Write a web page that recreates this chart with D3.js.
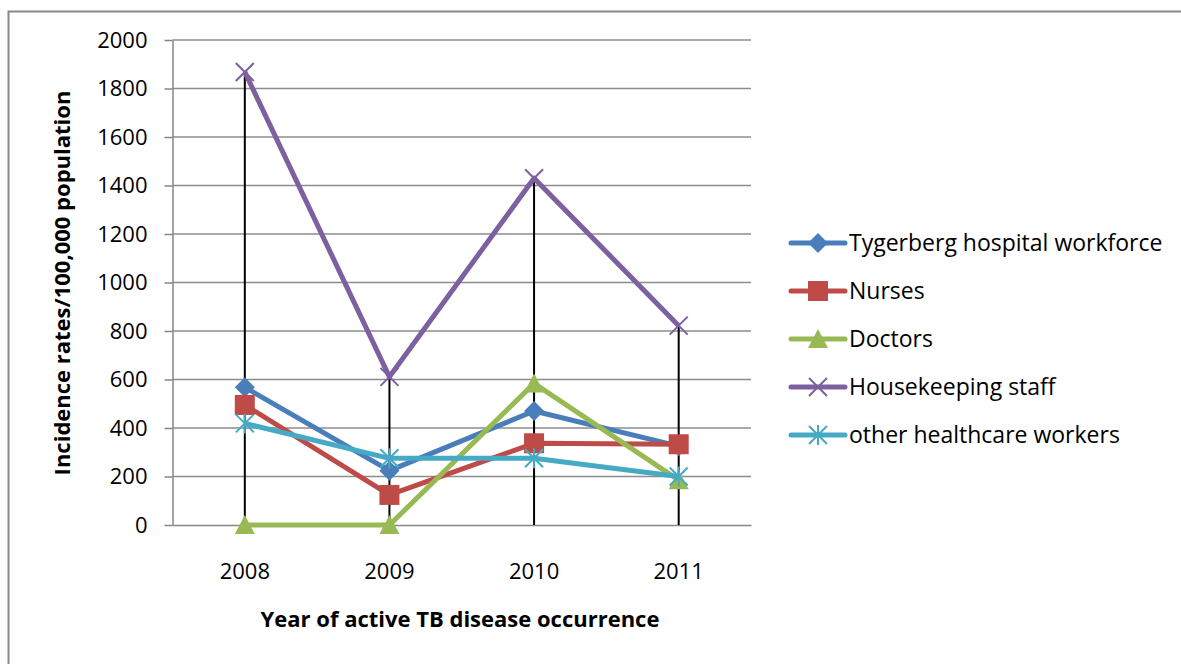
<!DOCTYPE html>
<html>
<head>
<meta charset="utf-8">
<script src="https://cdn.jsdelivr.net/npm/d3@7"></script>
<style>
  body { margin: 0; background: #fff; }
  svg text { font-family: "Open Sans", "Noto Sans", sans-serif; fill: #000; }
</style>
</head>
<body>
<svg id="chart" width="1181" height="664"></svg>
<script>
// categories and series values
const years = ["2008", "2009", "2010", "2011"];
const tygerberg = [568, 224, 470, 325];
const nurses = [495, 124, 337, 333];
const doctors = [0, 0, 584, 185];
const housekeeping = [1868, 611, 1430, 822];
const otherWorkers = [419, 275, 275, 200];
const yTicks = [0, 200, 400, 600, 800, 1000, 1200, 1400, 1600, 1800, 2000];

const seriesNames = ["Tygerberg hospital workforce", "Nurses", "Doctors", "Housekeeping staff", "other healthcare workers"];
const seriesValues = [tygerberg, nurses, doctors, housekeeping, otherWorkers];
const seriesColors = ["#4a7ebb", "#be4b48", "#98b954", "#7d60a0", "#46aac5"];
const seriesMarkers = ["diamond", "square", "triangle", "x", "star"];

const svg = d3.select("#chart");

// outer chart border (runs off the right and bottom edge)
svg.append("rect")
  .attr("x", 8.5).attr("y", 11.5)
  .attr("width", 1200).attr("height", 700)
  .attr("fill", "none").attr("stroke", "#888").attr("stroke-width", 2);

const x = d3.scaleBand().domain(years).range([172.5, 751]);
const y = d3.scaleLinear().domain([0, 2000]).range([525, 40]);

// gridlines
svg.append("g")
  .selectAll("line")
  .data(yTicks.filter(d => d > 0))
  .enter().append("line")
  .attr("x1", 172.5).attr("x2", 751)
  .attr("y1", d => y(d)).attr("y2", d => y(d))
  .attr("stroke", "#8c8c8c").attr("stroke-width", 1.5);

// y axis
const yAxis = svg.append("g")
  .attr("transform", "translate(172.5,0)")
  .call(d3.axisLeft(y).tickValues(yTicks).tickFormat(d3.format("d"))
    .tickSize(8).tickPadding(17).tickSizeOuter(0));
yAxis.select(".domain").attr("stroke", "#868686").attr("stroke-width", 1.5);
yAxis.selectAll(".tick line").attr("stroke", "#868686").attr("stroke-width", 1.5);
yAxis.selectAll(".tick text").attr("font-size", 22).attr("font-family", "Open Sans");

// x axis
const xAxis = svg.append("g")
  .attr("transform", "translate(0,525)")
  .call(d3.axisBottom(x).tickSize(0).tickPadding(38).tickSizeOuter(0));
xAxis.select(".domain").attr("stroke", "#868686").attr("stroke-width", 1.5);
xAxis.selectAll(".tick text").attr("font-size", 22).attr("font-family", "Open Sans");

// axis titles
svg.append("text")
  .attr("x", 460).attr("y", 627)
  .attr("text-anchor", "middle")
  .attr("font-weight", "bold").attr("font-size", 22)
  .text("Year of active TB disease occurrence");

svg.append("text")
  .attr("transform", "translate(70,283) rotate(-90)")
  .attr("text-anchor", "middle")
  .attr("font-weight", "bold").attr("font-size", 22)
  .text("Incidence rates/100,000 population");

// drop lines from highest value down to the axis
const cx = d => x(d) + x.bandwidth() / 2;
svg.append("g")
  .selectAll("line")
  .data(years)
  .enter().append("line")
  .attr("x1", d => cx(d)).attr("x2", d => cx(d))
  .attr("y1", (d, i) => y(d3.max(seriesValues, s => s[i])))
  .attr("y2", y(0))
  .attr("stroke", "#000").attr("stroke-width", 2);

function drawMarker(g, type, color, px, py) {
  if (type === "diamond") {
    g.append("path")
      .attr("d", `M${px},${py - 10}L${px + 10},${py}L${px},${py + 10}L${px - 10},${py}Z`)
      .attr("fill", color);
  } else if (type === "square") {
    g.append("rect")
      .attr("x", px - 10).attr("y", py - 10).attr("width", 20).attr("height", 20)
      .attr("fill", color);
  } else if (type === "triangle") {
    g.append("path")
      .attr("d", `M${px},${py - 10}L${px + 10},${py + 9}L${px - 10},${py + 9}Z`)
      .attr("fill", color);
  } else if (type === "x") {
    g.append("path")
      .attr("d", `M${px - 9},${py - 9}L${px + 9},${py + 9}M${px - 9},${py + 9}L${px + 9},${py - 9}`)
      .attr("stroke", color).attr("stroke-width", 2).attr("fill", "none");
  } else {
    g.append("path")
      .attr("d", `M${px - 9},${py - 9}L${px + 9},${py + 9}M${px - 9},${py + 9}L${px + 9},${py - 9}M${px},${py - 10}L${px},${py + 10}`)
      .attr("stroke", color).attr("stroke-width", 2).attr("fill", "none");
  }
}

const line = d3.line()
  .x((d, i) => cx(years[i]))
  .y(d => y(d));

seriesValues.forEach((vals, k) => {
  const g = svg.append("g");
  g.append("path")
    .attr("d", line(vals))
    .attr("fill", "none")
    .attr("stroke", seriesColors[k])
    .attr("stroke-width", 5)
    .attr("stroke-linejoin", "round");
  vals.forEach((v, i) => drawMarker(g, seriesMarkers[k], seriesColors[k], cx(years[i]), y(v)));
});

// legend
const legend = svg.append("g");
seriesNames.forEach((name, k) => {
  const ly = 243 + k * 48;
  const g = legend.append("g");
  g.append("line")
    .attr("x1", 791).attr("x2", 845)
    .attr("y1", ly).attr("y2", ly)
    .attr("stroke", seriesColors[k]).attr("stroke-width", 5)
    .attr("stroke-linecap", "round");
  drawMarker(g, seriesMarkers[k], seriesColors[k], 818, ly);
  g.append("text")
    .attr("x", 849).attr("y", ly + 8)
    .attr("font-size", 23)
    .text(name);
});
</script>
</body>
</html>
